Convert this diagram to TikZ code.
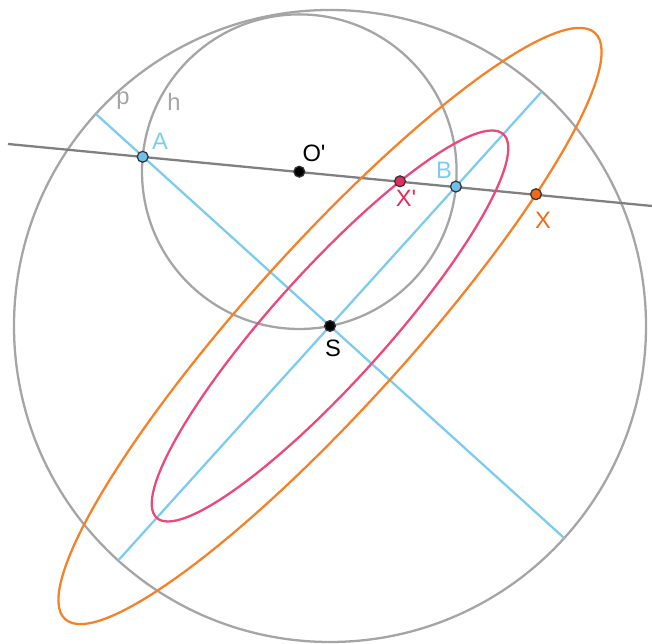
\documentclass[tikz,border=0pt]{standalone}
\usepackage{fontspec}
\setmainfont{Liberation Sans}
\usepackage{tikz}
\definecolor{xGray}{RGB}{165,165,165}
\definecolor{xLine}{RGB}{128,128,128}
\definecolor{xBlue}{RGB}{125,204,240}
\definecolor{xPink}{RGB}{236,72,122}
\definecolor{xOrange}{RGB}{245,130,40}
\definecolor{xPtBlue}{RGB}{110,192,236}
\definecolor{xPtPink}{RGB}{225,45,95}
\definecolor{xPtOrange}{RGB}{238,105,25}
\tikzset{
  circ/.style={xGray, line width=1.3pt},
  axisline/.style={xBlue, line width=1.3pt},
  trline/.style={xLine, line width=1.3pt},
  pt/.style={circle, draw=black!80, line width=0.7pt, inner sep=0pt, minimum size=6.2pt},
  lbl/.style={font=\fontsize{13.5}{15}\selectfont, inner sep=0pt},
}

\begin{document}
\begin{tikzpicture}[x=0.02cm, y=0.02cm]
    \useasboundingbox (0,0) rectangle (652,644);
    \coordinate (S)  at (330,318);
    \coordinate (O)  at (299.3,472.3);
    \coordinate (A)  at (142.7,487.2);
    \coordinate (B)  at (455.9,457.4);
    \coordinate (Xp) at (400.0,462.7);
    \coordinate (X)  at (536.0,449.8);
    \coordinate (l1) at (8,500.0);
    \coordinate (l2) at (652,438.0);
    \coordinate (a1) at (95.8,530.1);
    \coordinate (a2) at (564.2,105.9);
    \coordinate (b1) at (541.8,552.5);
    \coordinate (b2) at (118.2,83.5);
    % circles p and h
    \draw[circ] (S) circle (316);
    \draw[circ] (O) circle (157.3);
    % axes through S
    \draw[axisline] (a1) -- (a2);
    \draw[axisline] (b1) -- (b2);
    % line through O'
    \draw[trline] (l1) -- (l2);
    % ellipses
    \draw[xOrange, line width=1.3pt, rotate around={47.9:(S)}] (S) ellipse (395.1 and 80.5);
    \draw[xPink, line width=1.3pt, rotate around={47.9:(S)}] (S) ellipse (258.5 and 56.1);
    % points
    \node[pt, fill=xPtBlue]   (ptA)  at (A)  {};
    \node[pt, fill=xPtBlue]   (ptB)  at (B)  {};
    \node[pt, fill=black]     (ptO)  at (O)  {};
    \node[pt, fill=black]     (ptS)  at (S)  {};
    \node[pt, fill=xPtPink]   (ptXp) at (Xp) {};
    \node[pt, fill=xPtOrange] (ptX)  at (X)  {};
    % labels
    \node[lbl, xGray]    (lp)  at (123,543) {p};
    \node[lbl, xGray]    (lh)  at (174,542) {h};
    \node[lbl, xBlue]    (lA)  at (160,503) {A};
    \node[lbl, xBlue]    (lB)  at (444,474) {B};
    \node[lbl]           (lO)  at (314,491) {O\textquotesingle};
    \node[lbl]           (lS)  at (333,296) {S};
    \node[lbl, xPtPink]  (lXp) at (406,446) {X\textquotesingle};
    \node[lbl, xPtOrange] (lX) at (543,424) {X};
  \end{tikzpicture}
\end{document}
